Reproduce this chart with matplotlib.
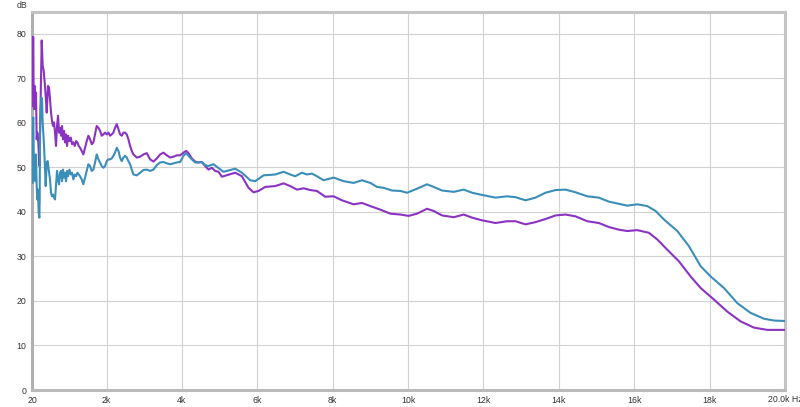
import matplotlib
matplotlib.use("Agg")
import matplotlib.pyplot as plt

# ---- data (Hz, dB) ----
purple_f = [20, 29, 38, 47, 55, 64, 73, 91, 108, 126, 144, 162, 188, 215, 232, 250, 277, 303, 330, 356, 383, 410,
            445, 472, 498, 525, 551, 578, 604, 631, 657, 684, 711, 737, 764, 790, 817, 843, 870, 896, 923, 950, 976,
            1012, 1047, 1082, 1118, 1153, 1189, 1224, 1259, 1295, 1339, 1383, 1428, 1472, 1516, 1560, 1605, 1649,
            1693, 1737, 1782, 1826, 1870, 1915, 1959, 2003, 2047, 2092, 2136, 2180, 2224, 2269, 2313, 2357, 2401,
            2446, 2490, 2534, 2578, 2623, 2667, 2711, 2800, 2888, 2977, 3065, 3154, 3243, 3331, 3420, 3508, 3597,
            3685, 3774, 3862, 3951, 4039, 4110, 4172, 4261, 4349, 4438, 4526, 4615, 4703, 4792, 4880, 4969, 5058,
            5412, 5590, 5765, 5898, 6031, 6208, 6474, 6695, 6872, 7050, 7226, 7404, 7581, 7802, 8023, 8245, 8554,
            8776, 8997, 9263, 9529, 9794, 10015, 10236, 10502, 10679, 10901, 11210, 11476, 11699, 11964, 12318,
            12628, 12849, 13115, 13380, 13646, 13911, 14177, 14442, 14752, 15061, 15327, 15592, 15815, 16081,
            16390, 16612, 16877, 17185, 17496, 17762, 18116, 18470, 18824, 19178, 19532, 20000]
purple_db = [70.0, 79.2, 63.8, 79.3, 79.2, 64.5, 63.1, 68.3, 63.1, 66.8, 56.3, 57.8, 55.6, 50.3, 57.1, 65.3, 78.5,
             72.8, 71.7, 69.1, 66.1, 62.3, 68.3, 67.9, 65.3, 62.3, 60.4, 59.3, 60.1, 57.8, 54.8, 59.3, 61.6, 57.8,
             58.9, 57.1, 59.3, 56.3, 58.2, 55.6, 57.4, 54.8, 57.1, 55.9, 56.7, 55.2, 55.6, 54.8, 55.9, 55.6, 54.8,
             54.4, 53.7, 52.9, 54.4, 55.9, 57.1, 56.3, 55.2, 55.6, 57.4, 59.3, 58.9, 58.2, 57.1, 57.4, 57.8, 57.4,
             57.8, 57.1, 57.4, 57.8, 58.9, 59.7, 58.6, 57.4, 57.1, 57.8, 57.8, 57.4, 56.3, 54.8, 53.7, 52.9, 52.2,
             52.4, 52.9, 53.2, 51.8, 51.3, 52.0, 52.9, 53.3, 52.7, 52.2, 52.4, 52.7, 52.7, 53.3, 53.7, 53.2, 52.0,
             51.3, 51.1, 51.2, 50.3, 49.5, 49.9, 49.2, 49.0, 47.9, 48.8, 48.0, 45.4, 44.4, 44.7, 45.6, 45.8, 46.4,
             45.8, 45.0, 45.3, 44.9, 44.7, 43.4, 43.5, 42.6, 41.7, 42.0, 41.3, 40.5, 39.6, 39.4, 39.1, 39.6, 40.7,
             40.2, 39.2, 38.8, 39.4, 38.7, 38.1, 37.5, 37.9, 37.9, 37.2, 37.7, 38.4, 39.2, 39.4, 39.0, 37.9, 37.5,
             36.6, 36.0, 35.7, 35.9, 35.3, 33.8, 31.5, 28.9, 25.5, 22.9, 20.3, 17.6, 15.4, 14.0, 13.5, 13.5]

blue_f = [20, 29, 47, 55, 73, 91, 108, 126, 144, 162, 180, 197, 215, 224, 232, 250, 268, 286, 303, 330, 356, 383,
          410, 436, 463, 498, 525, 551, 578, 604, 631, 657, 684, 711, 737, 764, 790, 817, 843, 870, 896, 923, 950,
          976, 1012, 1047, 1082, 1118, 1153, 1189, 1224, 1259, 1295, 1339, 1383, 1428, 1472, 1516, 1560, 1605,
          1649, 1693, 1737, 1782, 1826, 1870, 1915, 1959, 2003, 2047, 2092, 2136, 2180, 2224, 2269, 2313, 2357,
          2401, 2446, 2490, 2534, 2578, 2623, 2667, 2711, 2800, 2888, 2977, 3065, 3154, 3243, 3331, 3420, 3508,
          3597, 3685, 3774, 3862, 3951, 4039, 4110, 4172, 4261, 4349, 4438, 4526, 4615, 4703, 4836, 5101, 5412,
          5590, 5810, 5943, 6164, 6474, 6695, 6872, 7005, 7182, 7315, 7448, 7581, 7758, 8023, 8289, 8554, 8776,
          8997, 9175, 9351, 9574, 9794, 9971, 10236, 10502, 10679, 10901, 11210, 11476, 11699, 11964, 12318,
          12628, 12849, 13115, 13380, 13646, 13911, 14177, 14442, 14752, 15061, 15327, 15592, 15815, 16081,
          16346, 16567, 16788, 17143, 17451, 17762, 18027, 18381, 18735, 19089, 19443, 19709, 20000]
blue_db = [56.3, 46.5, 60.8, 61.2, 47.3, 52.6, 46.9, 52.9, 45.8, 42.8, 45.0, 39.8, 38.7, 42.8, 57.1, 63.1, 65.7,
           65.3, 60.1, 56.3, 51.8, 45.8, 51.1, 51.4, 49.5, 47.3, 44.3, 43.5, 43.9, 43.2, 42.8, 45.8, 49.2, 47.3,
           46.2, 48.8, 49.2, 46.9, 49.5, 47.7, 48.8, 46.9, 49.2, 48.0, 49.5, 48.4, 48.8, 47.3, 48.4, 48.0, 48.8,
           48.4, 48.0, 47.3, 46.2, 47.7, 49.2, 50.7, 50.3, 49.2, 49.5, 51.1, 52.9, 51.8, 51.1, 50.3, 49.9, 50.3,
           51.4, 51.8, 51.8, 52.0, 52.6, 53.3, 54.4, 53.7, 52.2, 51.4, 52.2, 52.6, 52.2, 51.4, 50.7, 49.5, 48.4,
           48.2, 48.8, 49.4, 49.5, 49.2, 49.5, 50.5, 51.1, 51.2, 50.9, 50.7, 50.9, 51.1, 51.2, 52.6, 53.2, 52.6,
           51.8, 51.1, 51.1, 51.2, 50.5, 50.3, 50.7, 49.0, 49.7, 48.8, 47.1, 46.9, 48.2, 48.4, 49.0, 48.4, 48.0,
           48.8, 48.4, 48.6, 48.0, 47.1, 47.7, 46.9, 46.5, 47.1, 46.5, 45.6, 45.4, 44.8, 44.7, 44.3, 45.2, 46.2,
           45.6, 44.8, 44.5, 45.0, 44.3, 43.8, 43.2, 43.5, 43.3, 42.6, 43.2, 44.3, 44.9, 45.0, 44.4, 43.5, 43.2,
           42.3, 41.8, 41.4, 41.7, 41.3, 40.2, 38.3, 35.7, 32.3, 27.8, 25.5, 22.9, 19.5, 17.3, 16.0, 15.6, 15.5]

x_ticks = [20, 2000, 4000, 6000, 8000, 10000, 12000, 14000, 16000, 18000, 20000]
x_labels = ["20", "2k", "4k", "6k", "8k", "10k", "12k", "14k", "16k", "18k", ""]
y_ticks = [0, 10, 20, 30, 40, 50, 60, 70, 80]

PURPLE = "#8a33c2"
BLUE = "#3a8eb8"
GRID = "#d2d2d2"
TXT = "#333333"

plt.rcParams['font.family'] = ['Liberation Sans', 'DejaVu Sans']

fig = plt.figure(figsize=(8.0, 4.07), dpi=100)
ax = fig.add_axes([32 / 800, 17 / 407, 753 / 800, 378.5 / 407])

ax.plot(purple_f, purple_db, color=PURPLE, lw=1.5, solid_joinstyle='round', zorder=3)
ax.plot(blue_f, blue_db, color=BLUE, lw=1.5, solid_joinstyle='round', zorder=4)

ax.set_xlim(20, 20000)
ax.set_ylim(0, 85)
ax.set_xticks(x_ticks)
ax.set_xticklabels(x_labels)
ax.set_yticks(y_ticks)
ax.grid(True, color=GRID, lw=0.8)
ax.set_axisbelow(True)
ax.tick_params(length=0, labelsize=6.3, colors=TXT)
ax.tick_params(axis='y', pad=4)
ax.tick_params(axis='x', pad=4)

for side, sp in ax.spines.items():
    sp.set_linewidth(2.2)
    sp.set_color("#c4c4c4")
ax.spines['left'].set_color("#b0b0b0")
ax.spines['bottom'].set_color("#bababa")

ax.text(-0.006, 1.005, "dB", transform=ax.transAxes, ha='right', va='bottom', fontsize=6.3, color=TXT)
ax.text(19540, -0.012, "20.0k Hz", transform=ax.get_xaxis_transform(), ha='left', va='top',
        fontsize=6.3, color=TXT, clip_on=False)

fig.savefig("out.png", dpi=100, facecolor="white")
